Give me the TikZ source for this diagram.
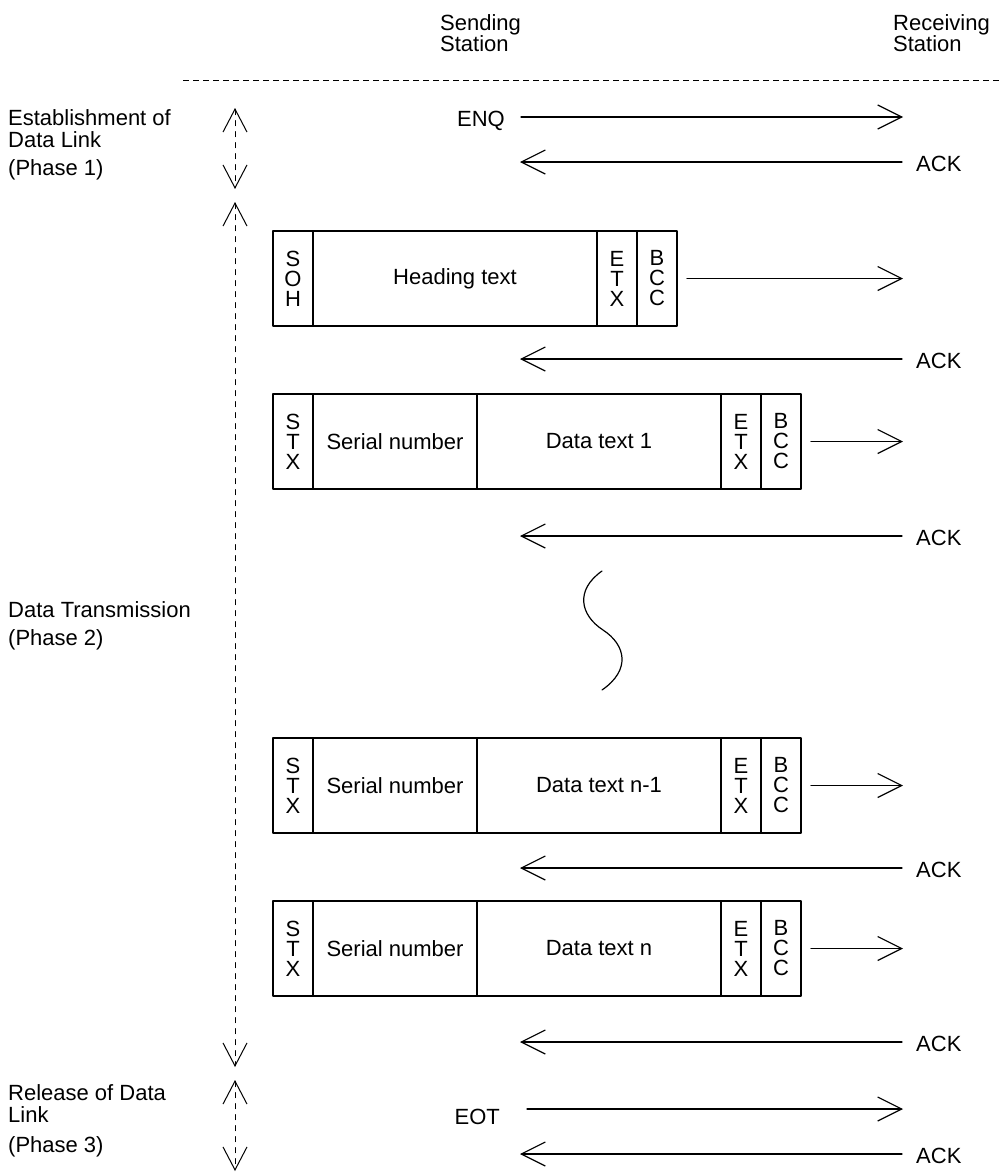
\documentclass[tikz,border=0pt]{standalone}
\usepackage{fontspec}
\setmainfont{Liberation Sans}
\usetikzlibrary{arrows.meta,positioning}

\tikzset{
	every node/.style={font=\fontsize{22}{22.5}\selectfont, inner sep=0pt},
	msg/.style={line width=1.2pt, -{Straight Barb[length=24pt,width=24pt]}},
	phase/.style={line width=1pt, dash pattern=on 5pt off 6pt,
		{Straight Barb[length=23pt,width=24pt]}-{Straight Barb[length=23pt,width=24pt]}},
	field/.style={draw, line width=1.2pt, minimum height=95pt, outer sep=0pt,
		align=center, font=\fontsize{22}{20}\selectfont},
	station/.style={anchor=north west, align=left, font=\fontsize{22}{19.5}\selectfont},
	reply/.style={anchor=west, inner xsep=14pt},
}

\begin{document}
\begin{tikzpicture}[x=1pt, y=-1pt, line cap=round, line join=round]
			
			% Page frame
			\useasboundingbox (0,0) rectangle (1002,1173);
			
			% Stations
			\node[station] (send) at (440,14) {Sending\\Station};
			\node[station] (recv) at (893,14) {Receiving\\Station};
			\draw[line width=1pt, dash pattern=on 6pt off 4pt, line cap=butt] (183,80) -- (1002,80);
			
			% Phase labels
			\node[anchor=north west, align=left] (ph1) at (8,109) {Establishment of\\Data Link\\[5.5pt](Phase 1)};
			\node[anchor=north west, align=left] (ph2) at (8,601) {Data Transmission\\[5.5pt](Phase 2)};
			\node[anchor=north west, align=left] (ph3) at (8,1084) {Release of Data\\Link\\[7pt](Phase 3)};
			
			% Phase extents
			\coordinate (p1a) at (235,108);  \coordinate (p1b) at (235,189);
			\coordinate (p2a) at (235,202);  \coordinate (p2b) at (235,1067);
			\coordinate (p3a) at (235,1080); \coordinate (p3b) at (235,1171);
			\draw[phase] (p1a) -- (p1b);
			\draw[phase] (p2a) -- (p2b);
			\draw[phase] (p3a) -- (p3b);
			
			% Message ends at both stations
			\coordinate (r0) at (903,117);
			\coordinate (r1) at (903,278.5);
			\coordinate (r2) at (903,441.5);
			\coordinate (r3) at (903,785.5);
			\coordinate (r4) at (903,948.5);
			\coordinate (r5) at (903,1109);
			\coordinate (s1) at (520,162);
			\coordinate (s2) at (520,359);
			\coordinate (s3) at (520,536);
			\coordinate (s4) at (520,868);
			\coordinate (s5) at (520,1042);
			\coordinate (s6) at (520,1154);
			
			% Enquiry
			\node[anchor=east] (enq) at (505,121) {ENQ};
			\draw[msg, shorten <=16pt] (enq.east |- r0) -- (r0);
			\node[reply] (ack1) at (902,164) {ACK};
			\draw[msg] (ack1.west |- s1) -- (s1);
			
			% Heading frame
			\node[field, minimum width=40pt, anchor=north west] (soh) at (273,231) {S\\O\\H};
			\node[field, minimum width=284pt, right=0pt of soh] (head) {Heading text};
			\node[field, minimum width=40pt, right=0pt of head] (etx0) {E\\T\\X};
			\node[field, minimum width=40pt, right=0pt of etx0] (bcc0) {B\\C\\C};
			\draw[msg, shorten <=10pt] (bcc0) -- (r1);
			\node[reply] (ack2) at (902,361) {ACK};
			\draw[msg] (ack2.west |- s2) -- (s2);
			
			% Data frame 1
			\node[field, minimum width=40pt, anchor=north west] (stx1) at (273,394) {S\\T\\X};
			\node[field, minimum width=164pt, right=0pt of stx1] (ser1) {Serial number};
			\node[field, minimum width=244pt, right=0pt of ser1] (dat1) {Data text 1};
			\node[field, minimum width=40pt, right=0pt of dat1] (etx1) {E\\T\\X};
			\node[field, minimum width=40pt, right=0pt of etx1] (bcc1) {B\\C\\C};
			\draw[msg, shorten <=10pt] (bcc1) -- (r2);
			\node[reply] (ack3) at (902,538) {ACK};
			\draw[msg] (ack3.west |- s3) -- (s3);
			
			% Break in the sequence
			\draw[line width=1.2pt] (602,571) .. controls (575,590) and (580,615) .. (603,630)
			.. controls (626,645) and (631,670) .. (602,690);
			
			% Data frame n-1
			\node[field, minimum width=40pt, anchor=north west] (stx2) at (273,738) {S\\T\\X};
			\node[field, minimum width=164pt, right=0pt of stx2] (ser2) {Serial number};
			\node[field, minimum width=244pt, right=0pt of ser2] (dat2) {Data text n-1};
			\node[field, minimum width=40pt, right=0pt of dat2] (etx2) {E\\T\\X};
			\node[field, minimum width=40pt, right=0pt of etx2] (bcc2) {B\\C\\C};
			\draw[msg, shorten <=10pt] (bcc2) -- (r3);
			\node[reply] (ack4) at (902,870) {ACK};
			\draw[msg] (ack4.west |- s4) -- (s4);
			
			% Data frame n
			\node[field, minimum width=40pt, anchor=north west] (stx3) at (273,901) {S\\T\\X};
			\node[field, minimum width=164pt, right=0pt of stx3] (ser3) {Serial number};
			\node[field, minimum width=244pt, right=0pt of ser3] (dat3) {Data text n};
			\node[field, minimum width=40pt, right=0pt of dat3] (etx3) {E\\T\\X};
			\node[field, minimum width=40pt, right=0pt of etx3] (bcc3) {B\\C\\C};
			\draw[msg, shorten <=10pt] (bcc3) -- (r4);
			\node[reply] (ack5) at (902,1044) {ACK};
			\draw[msg] (ack5.west |- s5) -- (s5);
			
			% End of transmission
			\node[anchor=east] (eot) at (500,1117) {EOT};
			\draw[msg, shorten <=27pt] (eot.east |- r5) -- (r5);
			\node[reply] (ack6) at (902,1156) {ACK};
			\draw[msg] (ack6.west |- s6) -- (s6);
			
		\end{tikzpicture}
\end{document}
